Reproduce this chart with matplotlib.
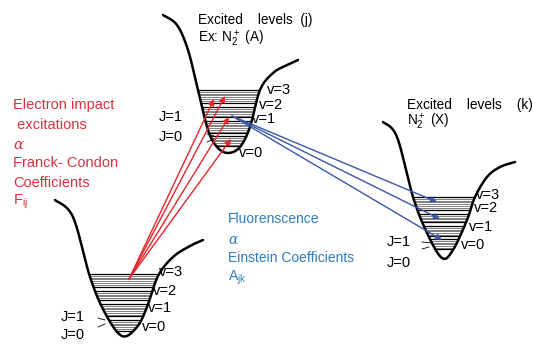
import numpy as np
import matplotlib
matplotlib.use('Agg')
import matplotlib.pyplot as plt
from matplotlib.patches import Polygon
from matplotlib import font_manager

names = {f.name for f in font_manager.fontManager.ttflist}
narrow = 'Liberation Sans Narrow' if 'Liberation Sans Narrow' in names else 'Liberation Sans'
plt.rcParams['font.family'] = [narrow, 'DejaVu Sans']
plt.rcParams['mathtext.fontset'] = 'custom'
plt.rcParams['mathtext.rm'] = narrow
plt.rcParams['mathtext.it'] = 'DejaVu Serif:italic'

# potential wells (pixel coords, y down)
well_ground = [(55, 200), (73, 217), (90, 277), (105, 313), (122, 336), (137, 327),
               (147, 307), (158, 276), (173, 257), (190, 246), (203, 240)]
well_j = [(163, 15), (177, 25), (188, 50), (198, 90), (208, 130), (217, 147), (228, 153),
          (240, 147), (250, 127), (260, 90), (273, 73), (287, 65), (298, 60)]
well_k = [(383, 122), (397, 137), (413, 197), (427, 233), (442, 258), (453, 250),
          (467, 220), (475, 197), (487, 177), (500, 167), (515, 162)]

# vibrational level bands (top, bottom) for v=3..0
bands_ground = [(274, 287), (291, 300), (304, 316), (320, 331)]
bands_j = [(90, 103), (107, 117), (121, 133), (136, 146)]
bands_k = [(197, 210), (214, 222), (226, 236), (239, 249)]

# transitions
red_start = (129, 279)
red_tips = [(214, 99), (225, 96), (229, 117), (231, 139)]
blue_start = (232, 116)
blue_tips = [(437, 202), (440, 219), (442, 240)]

v_labels = ['v=3', 'v=2', 'v=1', 'v=0']
v_pos_ground = [(159, 272), (153, 291), (148, 308), (142, 327)]
v_pos_j = [(267, 90), (259, 105), (252, 119), (239, 153)]
v_pos_k = [(476, 195), (474, 208), (469, 227), (461, 245)]
J_pos = {'ground': [(61, 317), (61, 335)], 'j': [(159, 117), (159, 137)], 'k': [(387, 242), (387, 263)]}
J_ticks = {'ground': [((98, 318), (105, 320)), ((98, 327), (105, 324))],
           'j': [((207, 134), (214, 136)), ((207, 142), (214, 139))],
           'k': [((422, 242), (432, 243)), ((422, 249), (429, 247))]}

RED = '#e3262b'
RED_TXT = '#d8323c'
BLUE = '#3b57a6'
BLUE_TXT = '#2f7cbf'


def smooth(pts, n=20):
    p = np.array(pts, float)
    p = np.vstack([p[0], p, p[-1]])
    out = []
    t = np.linspace(0, 1, n, endpoint=False)[:, None]
    for i in range(1, len(p) - 2):
        p0, p1, p2, p3 = p[i - 1], p[i], p[i + 1], p[i + 2]
        out.append(0.5 * (2 * p1 + (-p0 + p2) * t + (2 * p0 - 5 * p1 + 4 * p2 - p3) * t ** 2
                          + (-p0 + 3 * p1 - 3 * p2 + p3) * t ** 3))
    out.append(p[-2][None])
    return np.vstack(out)


fig = plt.figure(figsize=(5.33, 3.45), dpi=100)
ax = fig.add_axes([0, 0, 1, 1])
ax.set_xlim(0, 533)
ax.set_ylim(345, 0)
ax.axis('off')


def draw_well(pts, bands):
    c = smooth(pts)
    clip = Polygon(c, closed=True, transform=ax.transData, fill=False, lw=0)
    ax.add_patch(clip)
    x0, x1 = c[:, 0].min(), c[:, 0].max()
    for top, bot in bands:
        ys = np.arange(top + 1.8, bot + 0.1, 1.8)
        g = ax.hlines(ys, x0, x1, color='#6a6a6a', lw=0.6)
        g.set_clip_path(clip)
        b = ax.hlines([top, bot], x0, x1, color='black', lw=0.9)
        b.set_clip_path(clip)
    ax.plot(c[:, 0], c[:, 1], color='black', lw=1.8, solid_capstyle='round')


draw_well(well_ground, bands_ground)
draw_well(well_j, bands_j)
draw_well(well_k, bands_k)

for tip in red_tips:
    ax.annotate('', xy=tip, xytext=red_start,
                arrowprops=dict(arrowstyle='-|>', color=RED, lw=1.0, mutation_scale=9, shrinkA=0, shrinkB=0))
for tip in blue_tips:
    ax.annotate('', xy=tip, xytext=blue_start,
                arrowprops=dict(arrowstyle='-|>', color=BLUE, lw=1.0, mutation_scale=9, shrinkA=0, shrinkB=0))

fs = 10.5
for pos in (v_pos_ground, v_pos_j, v_pos_k):
    for lab, (x, y) in zip(v_labels, pos):
        ax.text(x, y, lab, fontsize=fs, va='center', ha='left')
for key in J_pos:
    for lab, (x, y) in zip(['J=1', 'J=0'], J_pos[key]):
        ax.text(x, y, lab, fontsize=fs, va='center', ha='left')
    for (a, b) in J_ticks[key]:
        ax.plot([a[0], b[0]], [a[1], b[1]], color='black', lw=0.6)

ax.text(198, 20, 'Excited    levels  (j)', fontsize=9.8, va='center')
ax.text(198, 39, r'Ex: N$_2^+$ (A)', fontsize=9.8, va='center')
ax.text(407, 105, 'Excited    levels    (k)', fontsize=9.8, va='center')
ax.text(407, 122, r'N$_2^+$ (X)', fontsize=9.8, va='center')

red_lines = ['Electron impact', ' excitations', r'$\alpha$', 'Franck- Condon', 'Coefficients', r'F$_{\rm ij}$']
red_y = [105, 125, 145, 163, 183, 202]
for s, y in zip(red_lines, red_y):
    ax.text(13, y, s, fontsize=10.5, color=RED_TXT, va='center')

blue_lines = ['Fluorenscence', r'$\alpha$', 'Einstein Coefficients', r'A$_{\rm jk}$']
blue_y = [219, 240, 258, 278]
for s, y in zip(blue_lines, blue_y):
    ax.text(228, y, s, fontsize=10, color=BLUE_TXT, va='center')

fig.savefig('out.png', dpi=100)
